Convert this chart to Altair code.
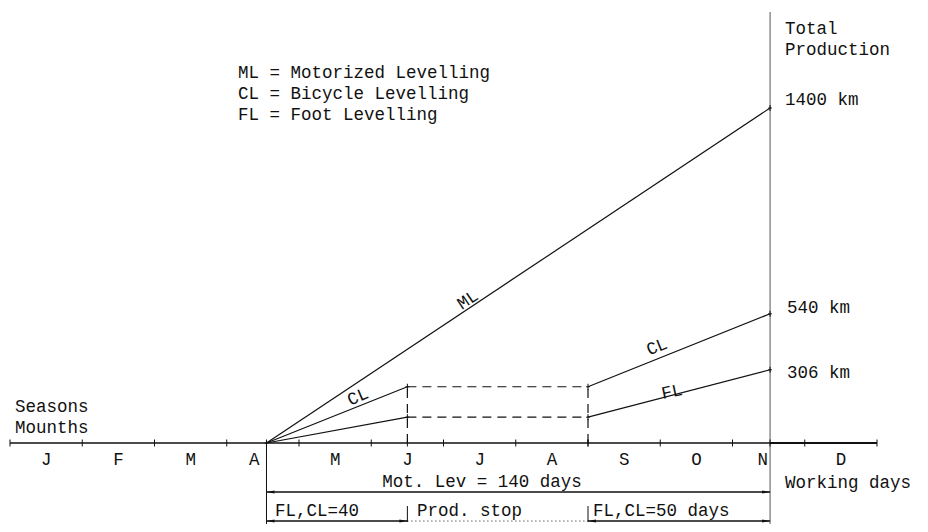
import altair as alt
import pandas as pd

# ---------------- data ----------------
months = ["J", "F", "M", "A", "M", "J", "J", "A", "S", "O", "N", "D"]
month_label_pos = [0.5, 1.5, 2.5, 3.38, 4.5, 5.5, 6.5, 7.5, 8.5, 9.5, 10.42, 11.5]
# event times, in months counted from 1 January
t_start, t_june, t_sept, t_end = 3.55, 5.5, 8.0, 10.52
ml_x = [t_start, t_end]
ml_km = [0, 1400]
cl_x = [t_start, t_june, t_sept, t_end]
cl_km = [0, 235, 235, 540]
fl_x = [t_start, t_june, t_sept, t_end]
fl_km = [0, 108, 108, 306]
end_labels = ["1400 km", "540 km", "306 km"]
legend_lines = ["ML = Motorized Levelling", "CL = Bicycle Levelling", "FL = Foot Levelling"]
span_labels = ["FL,CL=40", "Prod. stop", "FL,CL=50 days"]

# ---------------- layout ----------------
W, H = 912, 516
PX_PER_MONTH = 72.25
PX_PER_KM = 335 / 1400
X0_PAGE, Y0_PAGE = 10, 443   # page position of (month 0, 0 km)


def mo(px):  # page x -> months
    return (px - X0_PAGE) / PX_PER_MONTH


def km(py):  # page y -> km
    return (Y0_PAGE - py) / PX_PER_KM


XS = alt.Scale(domain=[mo(8), mo(8 + W)], nice=False, zero=False)
YS = alt.Scale(domain=[km(8 + H), km(8)], nice=False, zero=False)
FONT = "Liberation Mono"
FS = 17.5
INK = "#111111"


def X(f="x"):
    return alt.X(f"{f}:Q", scale=XS, axis=None)


def Y(f="y"):
    return alt.Y(f"{f}:Q", scale=YS, axis=None)


# ---------------- segments ----------------
solid, dashed = [], []
solid.append(dict(x=ml_x[0], x2=ml_x[1], y=ml_km[0], y2=ml_km[1]))
for xs, ks in [(cl_x, cl_km), (fl_x, fl_km)]:
    for i in range(3):
        seg = dict(x=xs[i], x2=xs[i + 1], y=ks[i], y2=ks[i + 1])
        (dashed if i == 1 else solid).append(seg)
# dashed verticals at production stop / restart
dashed.append(dict(x=t_june, x2=t_june, y=0, y2=cl_km[1]))
dashed.append(dict(x=t_sept, x2=t_sept, y=0, y2=cl_km[2]))

seg_solid = alt.Chart(pd.DataFrame(solid)).mark_rule(color=INK, strokeWidth=1.2).encode(
    x=X(), x2="x2:Q", y=Y(), y2="y2:Q")
seg_dash = alt.Chart(pd.DataFrame(dashed)).mark_rule(
    color=INK, strokeWidth=1.2, strokeDash=[9, 6]).encode(x=X(), x2="x2:Q", y=Y(), y2="y2:Q")

# baseline
base = pd.DataFrame([dict(x=0, x2=12, y=0, y2=0)])
baseline = alt.Chart(base).mark_rule(color=INK, strokeWidth=1.3).encode(
    x=X(), x2="x2:Q", y=Y(), y2="y2:Q")
base2 = pd.DataFrame([dict(x=t_end, x2=12, y=0, y2=0)])
baseline2 = alt.Chart(base2).mark_rule(color=INK, strokeWidth=2).encode(
    x=X(), x2="x2:Q", y=Y(), y2="y2:Q")

# vertical lines
verts = pd.DataFrame([
    dict(x=t_end, x2=t_end, y=km(12), y2=km(8 + H)),
])
vline_end = alt.Chart(verts).mark_rule(color="#555555", strokeWidth=1).encode(
    x=X(), x2="x2:Q", y=Y(), y2="y2:Q")
verts2 = pd.DataFrame([
    dict(x=t_start, x2=t_start, y=0, y2=km(8 + H)),
    dict(x=t_june, x2=t_june, y=km(506), y2=km(522)),
    dict(x=t_sept, x2=t_sept, y=km(506), y2=km(522)),
])
vline_other = alt.Chart(verts2).mark_rule(color=INK, strokeWidth=1).encode(
    x=X(), x2="x2:Q", y=Y(), y2="y2:Q")

# tick marks on the time axis
tick_x = list(range(13)) + [t_start, t_june, t_sept, t_end]
ticks = alt.Chart(pd.DataFrame({"x": tick_x, "y": [0] * len(tick_x)})).mark_point(
    shape="M0,-1L0,1", filled=False, stroke=INK, strokeWidth=1, size=49, opacity=1).encode(
    x=X(), y=Y())

# small markers at the series points
pts = pd.DataFrame({
    "x": [t_start, t_june, t_sept, t_end, t_june, t_sept, t_end, t_end],
    "y": [0, cl_km[1], cl_km[2], cl_km[3], fl_km[1], fl_km[2], fl_km[3], ml_km[1]],
})
marks = alt.Chart(pts).mark_point(
    shape="M0,-1L0,1M-0.6,0L0.6,0", filled=False, stroke=INK, strokeWidth=1, size=36, opacity=1).encode(
    x=X(), y=Y())

# ---------------- arrows (durations) ----------------
y_mot = km(492)
y_bot = km(521)
arr_lines = pd.DataFrame([
    dict(x=t_start, x2=t_end, y=y_mot, y2=y_mot),
    dict(x=t_start, x2=t_june, y=y_bot, y2=y_bot),
    dict(x=t_sept, x2=t_end, y=y_bot, y2=y_bot),
])
arrows = alt.Chart(arr_lines).mark_rule(color=INK, strokeWidth=1.3).encode(
    x=X(), x2="x2:Q", y=Y(), y2="y2:Q")
dotted = alt.Chart(pd.DataFrame([dict(x=t_june, x2=t_sept, y=y_bot, y2=y_bot)])).mark_rule(
    color=INK, strokeWidth=1, strokeDash=[1, 3]).encode(x=X(), x2="x2:Q", y=Y(), y2="y2:Q")

left_heads = pd.DataFrame({"x": [t_start, t_start, t_sept], "y": [y_mot, y_bot, y_bot]})
right_heads = pd.DataFrame({"x": [t_end, t_june, t_end], "y": [y_mot, y_bot, y_bot]})
lh = alt.Chart(left_heads).mark_point(
    shape="M0,0L2,-0.35L2,0.35Z", filled=True, color=INK, size=64, opacity=1).encode(x=X(), y=Y())
rh = alt.Chart(right_heads).mark_point(
    shape="M0,0L-2,-0.35L-2,0.35Z", filled=True, color=INK, size=64, opacity=1).encode(x=X(), y=Y())

# ---------------- texts ----------------
def text_layer(df, align="left", angle=None):
    kw = dict(font=FONT, fontSize=FS, color=INK, align=align, baseline="middle")
    if angle is not None:
        kw["angle"] = angle
    return alt.Chart(df).mark_text(**kw).encode(x=X(), y=Y(), text="t:N")


legend_df = pd.DataFrame({"x": [mo(238)] * 3, "y": [km(73), km(94), km(115)], "t": legend_lines})
right_df = pd.DataFrame({
    "x": [mo(785), mo(785), mo(785), mo(787), mo(787), mo(785)],
    "y": [km(29), km(50), km(100), km(308), km(373), km(483)],
    "t": ["Total", "Production", end_labels[0], end_labels[1], end_labels[2], "Working days"],
})
left_df = pd.DataFrame({"x": [mo(15), mo(15)], "y": [km(407), km(428)], "t": ["Seasons", "Mounths"]})
month_df = pd.DataFrame({"x": month_label_pos, "y": [km(460)] * 12, "t": months})
mot_df = pd.DataFrame({"x": [mo(482)], "y": [km(482)], "t": ["Mot. Lev = 140 days"]})
span_df = pd.DataFrame({"x": [mo(275), mo(417), mo(593)], "y": [km(511)] * 3, "t": span_labels})

ml_lab = pd.DataFrame({"x": [mo(468)], "y": [km(300)], "t": ["ML"]})
cl_lab1 = pd.DataFrame({"x": [mo(358)], "y": [km(397)], "t": ["CL"]})
cl_lab2 = pd.DataFrame({"x": [mo(657)], "y": [km(347)], "t": ["CL"]})
fl_lab = pd.DataFrame({"x": [mo(672)], "y": [km(392)], "t": ["FL"]})

chart = alt.layer(
    vline_end, vline_other, baseline, baseline2, seg_solid, seg_dash, ticks, marks,
    arrows, dotted, lh, rh,
    text_layer(legend_df), text_layer(right_df), text_layer(left_df),
    text_layer(month_df, "center"), text_layer(mot_df, "center"), text_layer(span_df),
    text_layer(ml_lab, "center", 326), text_layer(cl_lab1, "center", 337),
    text_layer(cl_lab2, "center", 338), text_layer(fl_lab, "center", 348),
).properties(
    width=W, height=H, autosize=alt.AutoSizeParams(type="none"), padding=0,
    background="white",
).configure_view(stroke=None)

chart.save("out.html", embed_options={"renderer": "svg", "actions": False})
